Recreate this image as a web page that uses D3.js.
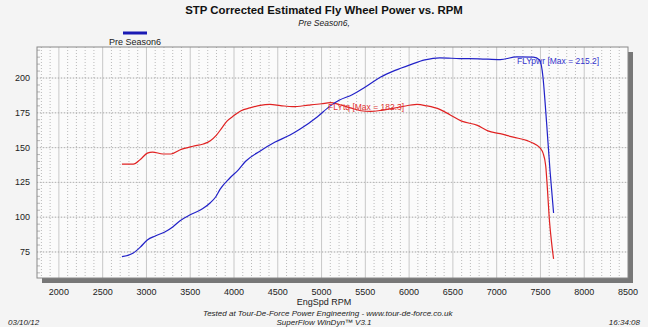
<!DOCTYPE html>
<html lang="en">
<head>
<meta charset="UTF-8">
<title>STP Corrected Estimated Fly Wheel Power vs. RPM</title>
<script src="https://cdn.jsdelivr.net/npm/d3@7/dist/d3.min.js"></script>
<style>
  body { margin: 0; background: #f4f4f4; }
  svg { display: block; font-family: Arial, "Liberation Sans", sans-serif; }
</style>
</head>
<body>
<div id="grafica"></div>
<script>
// data
const rpmPwr = [2720, 2850, 2930, 3010, 3100, 3210, 3300, 3380, 3500, 3640, 3730, 3790, 3840, 3950, 4050, 4130, 4300, 4470, 4640, 4760, 4950, 5100, 5200, 5350, 5500, 5670, 5840, 6010, 6180, 6350, 6580, 6800, 7040, 7230, 7420, 7490, 7530, 7550, 7570, 7610, 7650]
const flyPwr = [71.6, 74.3, 78.5, 83.6, 86.5, 89.4, 93, 97.3, 101.7, 106, 110.4, 114.5, 120, 128, 134, 140, 147.6, 154, 159, 163.5, 172, 180, 184, 188, 193.5, 200.5, 205.5, 209.5, 213, 214.5, 214, 213.8, 213.2, 215.2, 215, 213, 200, 185, 168, 133, 103]

const rpmTq = [2720, 2850, 2930, 3010, 3070, 3190, 3280, 3380, 3530, 3650, 3730, 3800, 3860, 3920, 4000, 4080, 4180, 4300, 4410, 4530, 4670, 4850, 5000, 5100, 5200, 5330, 5450, 5560, 5700, 5900, 6090, 6200, 6350, 6470, 6600, 6780, 6900, 7040, 7190, 7350, 7450, 7500, 7530, 7560, 7580, 7600, 7625, 7650]
const flyTq = [138.2, 138.2, 141.5, 146, 146.8, 145.4, 145.4, 148.3, 151, 152.6, 155, 159, 164, 169, 173, 176.5, 178.5, 180.4, 181, 180.2, 179.4, 180.5, 181.5, 182.3, 181, 178.5, 176.5, 176, 177, 179.2, 181, 180, 177.5, 173.5, 169, 166, 162, 160, 157.5, 155, 152, 149.5, 146, 137, 120, 100, 83, 70]

const xTicks = [2000, 2500, 3000, 3500, 4000, 4500, 5000, 5500, 6000, 6500, 7000, 7500, 8000, 8500]
const yTicks = [75, 100, 125, 150, 175, 200]

const ancho_total = 648, alto_total = 327
const margin = {top: 47, right: 20, bottom: 49, left: 37}
const ancho = ancho_total - margin.left - margin.right
const alto = alto_total - margin.top - margin.bottom

const svg = d3.select('#grafica').append('svg')
  .attr('width', ancho_total).attr('height', alto_total)

svg.append('rect').attr('width', ancho_total).attr('height', alto_total).attr('fill', '#f4f4f4')

// titles
svg.append('text').attr('x', 324).attr('y', 14).attr('text-anchor', 'middle')
  .attr('font-size', 11.4).attr('font-weight', 'bold').attr('fill', '#111')
  .text('STP Corrected Estimated Fly Wheel Power vs. RPM')
svg.append('text').attr('x', 324).attr('y', 26).attr('text-anchor', 'middle')
  .attr('font-size', 8.5).attr('font-style', 'italic').attr('fill', '#222')
  .text('Pre Season6,')

// legend
svg.append('line').attr('x1', 123).attr('x2', 147).attr('y1', 33).attr('y2', 33)
  .attr('stroke', '#1a1ab4').attr('stroke-width', 3)
svg.append('text').attr('x', 135).attr('y', 45).attr('text-anchor', 'middle')
  .attr('font-size', 9).attr('fill', '#222').text('Pre Season6')

const x = d3.scaleLinear().domain([1750, 8500]).range([0, ancho])
const y = d3.scaleLinear().domain([222.3, 56.3]).range([0, alto])

const g = svg.append('g').attr('transform', 'translate(' + margin.left + ',' + margin.top + ')')

// drop shadow + plot background
g.append('rect').attr('x', 5).attr('y', 5).attr('width', ancho).attr('height', alto).attr('fill', '#777')
g.append('rect').attr('width', ancho).attr('height', alto).attr('fill', '#fbfbfb')

// vertical grid every 100 rpm
const vGrid = d3.range(1800, 8500, 100)
g.selectAll('.vg').data(vGrid).join('line')
  .attr('x1', d => x(d)).attr('x2', d => x(d)).attr('y1', 0).attr('y2', alto)
  .attr('stroke', d => d % 500 === 0 ? '#bbb' : '#aaa')
  .attr('stroke-dasharray', d => d % 500 === 0 ? null : '1,2')
  .attr('stroke-width', 0.8)

// horizontal grid
g.selectAll('.hg').data(yTicks).join('line')
  .attr('x1', 0).attr('x2', ancho).attr('y1', d => y(d)).attr('y2', d => y(d))
  .attr('stroke', '#999').attr('stroke-dasharray', '1,2').attr('stroke-width', 0.9)
g.selectAll('.hg2').data(yTicks).join('line')
  .attr('x1', 0).attr('x2', ancho).attr('y1', d => y(d)).attr('y2', d => y(d))
  .attr('stroke', '#ccc').attr('stroke-width', 0.5)

// minor ticks on the left edge
g.selectAll('.mt').data(d3.range(60, 222, 5)).join('line')
  .attr('x1', 0).attr('x2', d => d % 25 === 0 ? 0 : 3).attr('y1', d => y(d)).attr('y2', d => y(d))
  .attr('stroke', '#999').attr('stroke-width', 0.7)

g.append('rect').attr('width', ancho).attr('height', alto)
  .attr('fill', 'none').attr('stroke', '#888').attr('stroke-width', 1)

// axis labels
g.selectAll('.xl').data(xTicks).join('text')
  .attr('x', d => x(d)).attr('y', alto + 17).attr('text-anchor', 'middle')
  .attr('font-size', 9).attr('fill', '#222').text(d => d)
g.selectAll('.yl').data(yTicks).join('text')
  .attr('x', -7).attr('y', d => y(d) + 3).attr('text-anchor', 'end')
  .attr('font-size', 9).attr('fill', '#222').text(d => d)

svg.append('text').attr('x', 324).attr('y', 305).attr('text-anchor', 'middle')
  .attr('font-size', 9).attr('fill', '#222').text('EngSpd RPM')

// curves
g.append('clipPath').attr('id', 'clip').append('rect').attr('width', ancho).attr('height', alto)
const linea = d3.line().x(d => x(d[0])).y(d => y(d[1])).curve(d3.curveMonotoneX)

g.append('path').datum(d3.zip(rpmTq, flyTq))
  .attr('clip-path', 'url(#clip)').attr('fill', 'none')
  .attr('stroke', '#e02222').attr('stroke-width', 1.2).attr('d', linea)
g.append('path').datum(d3.zip(rpmPwr, flyPwr))
  .attr('clip-path', 'url(#clip)').attr('fill', 'none')
  .attr('stroke', '#2222c8').attr('stroke-width', 1.2).attr('d', linea)

g.append('text').attr('x', 480).attr('y', 17).attr('font-size', 8.5)
  .attr('fill', '#3333cc').text('FLYpwr [Max = ' + d3.max(flyPwr) + ']')
g.append('text').attr('x', 291).attr('y', 63).attr('font-size', 8.5)
  .attr('fill', '#e03333').text('FLYtq [Max = ' + d3.max(flyTq) + ']')

// footer
svg.append('text').attr('x', 203).attr('y', 316).attr('font-size', 8).attr('font-style', 'italic')
  .attr('fill', '#222').text('Tested at Tour-De-Force Power Engineering - www.tour-de-force.co.uk')
svg.append('text').attr('x', 324).attr('y', 325).attr('text-anchor', 'middle').attr('font-size', 8)
  .attr('font-style', 'italic').attr('fill', '#222').text('SuperFlow WinDyn\u2122 V3.1')
svg.append('text').attr('x', 8).attr('y', 325).attr('font-size', 8).attr('font-style', 'italic')
  .attr('fill', '#222').text('03/10/12')
svg.append('text').attr('x', 640).attr('y', 325).attr('text-anchor', 'end').attr('font-size', 8)
  .attr('font-style', 'italic').attr('fill', '#222').text('16:34:08')
</script>
</body>
</html>
